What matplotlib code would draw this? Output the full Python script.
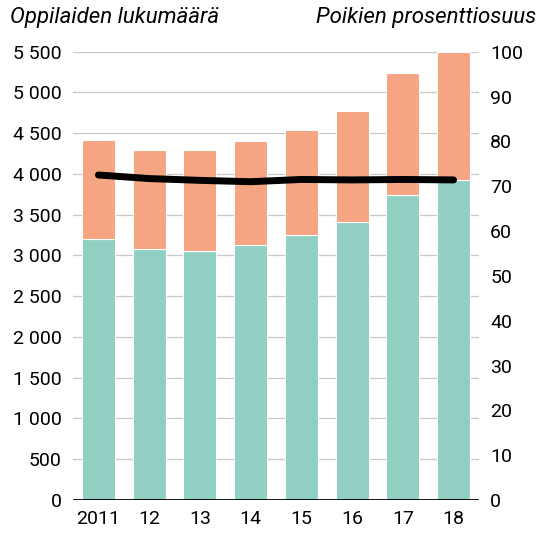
import matplotlib.pyplot as plt
from matplotlib.ticker import FuncFormatter

plt.rcParams['font.family'] = ['Roboto', 'DejaVu Sans']

years = ['2011', '12', '13', '14', '15', '16', '17', '18']
boys = [3202, 3075, 3059, 3125, 3247, 3407, 3746, 3922]
girls = [1215, 1215, 1231, 1275, 1292, 1365, 1492, 1574]
boys_pct = [72.5, 71.7, 71.3, 71.0, 71.5, 71.4, 71.5, 71.4]

teal = '#91cfc3'
salmon = '#f5a582'

fig = plt.figure(figsize=(5.41, 5.35), dpi=100)
ax = fig.add_axes([73 / 541, 35 / 535, 406 / 541, 448.3 / 535])
x = range(len(years))

ax.bar(x, boys, width=0.65, color=teal, edgecolor='white', linewidth=0.8, zorder=2)
ax.bar(x, girls, width=0.65, bottom=boys, color=salmon, edgecolor='white',
       linewidth=0.8, zorder=2)

ax.set_xlim(-0.5, len(years) - 0.5)
ax.set_ylim(0, 5500)
ax.set_yticks(range(0, 5501, 500))
ax.yaxis.set_major_formatter(FuncFormatter(lambda v, p: f'{int(v):,}'.replace(',', ' ')))
ax.grid(axis='y', color='#c8c8c8', linewidth=0.9, zorder=0)
ax.axhline(0, color='black', linewidth=2, zorder=4)
for s in ax.spines.values():
    s.set_visible(False)
ax.set_xticks(list(x))
ax.set_xticklabels(years)
ax.tick_params(axis='both', length=0, labelsize=14, colors='black')
ax.tick_params(axis='y', pad=8)
ax.tick_params(axis='x', pad=7)

ax2 = ax.twinx()
ax2.set_ylim(0, 100)
ax2.set_yticks(range(0, 101, 10))
ax2.plot(list(x), boys_pct, color='black', linewidth=5, solid_capstyle='round', zorder=5)
for s in ax2.spines.values():
    s.set_visible(False)
ax2.tick_params(axis='y', length=0, labelsize=14, pad=8, colors='black')

fig.text(10 / 541, 1 - 17 / 535, 'Oppilaiden lukumäärä', fontsize=16, style='italic',
         ha='left', va='center')
fig.text(536 / 541, 1 - 17 / 535, 'Poikien prosenttiosuus', fontsize=16, style='italic',
         ha='right', va='center')

fig.savefig('out.png', dpi=100)
